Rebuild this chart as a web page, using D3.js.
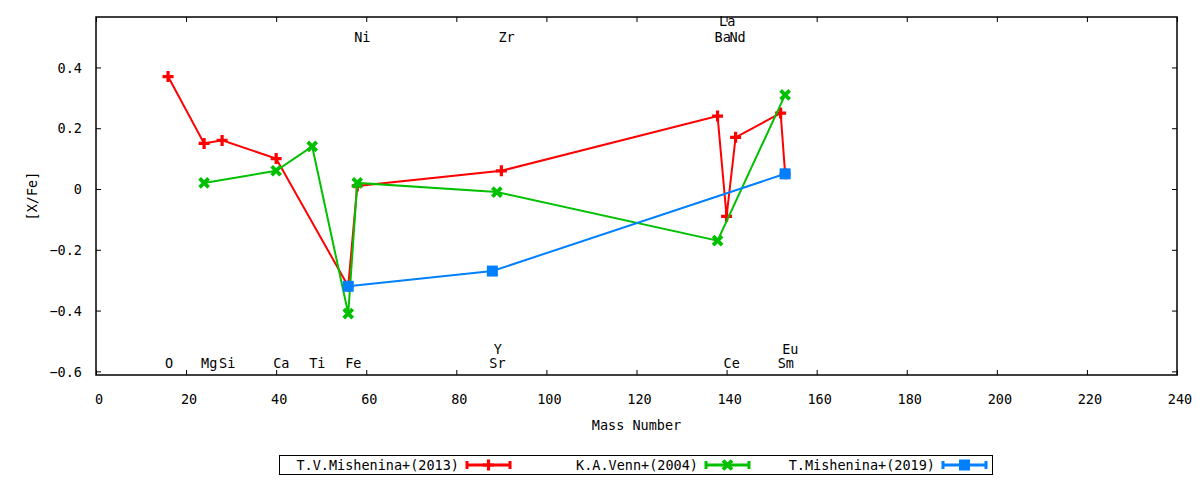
<!DOCTYPE html>
<html><head><meta charset="utf-8">
<script src="https://cdn.jsdelivr.net/npm/d3@7"></script>
<style>
html,body{margin:0;padding:0;background:#fff;}
svg text{font-family:"DejaVu Sans Mono",monospace;font-size:13.5px;fill:#000;}
</style></head>
<body>
<svg id="chart" width="1200" height="480"></svg>
<script>
// ---- data ----
const redMass   = [16, 24, 28, 40, 56, 58, 90, 138, 140, 142, 152, 153];
const redValue  = [0.37, 0.15, 0.16, 0.10, -0.32, 0.01, 0.06, 0.24, -0.09, 0.17, 0.25, 0.05];
const greenMass = [24, 40, 48, 56, 58, 89, 138, 153];
const greenValue= [0.02, 0.06, 0.14, -0.41, 0.02, -0.01, -0.17, 0.31];
const blueMass  = [56, 88, 153];
const blueValue = [-0.32, -0.27, 0.05];
const seriesNames = ["T.V.Mishenina+(2013)", "K.A.Venn+(2004)", "T.Mishenina+(2019)"];
const xTicks = [0,20,40,60,80,100,120,140,160,180,200,220,240];
const yTicks = [0.4,0.2,0,-0.2,-0.4,-0.6];
const labelText = ["Ni","Zr","La","Ba","Nd","O","Mg","Si","Ca","Ti","Fe","Y","Sr","Ce","Eu","Sm"];
const labelMass = [58, 90, 139, 138, 141.3, 16, 24, 28, 40, 48, 56, 89, 88, 140, 153, 152];
const labelY    = [0.50, 0.50, 0.552, 0.50, 0.50, -0.573, -0.573, -0.573, -0.573, -0.573, -0.573, -0.527, -0.573, -0.573, -0.527, -0.573];

// ---- layout ----
const svg = d3.select("#chart");
const L = 96, R = 1177, T = 17, B = 375;
const x = d3.scaleLinear().domain([0,240]).range([L,R]);
const y = d3.scaleLinear().domain([-0.612,0.566]).range([B,T]);
const colors = ["#ff0000","#00c000","#0080ff"];

// axes with inward ticks
const fmtY = d => d === 0 ? "0" : d3.format(".1f")(d);
const gB = svg.append("g").attr("transform",`translate(0,${B})`)
  .call(d3.axisBottom(x).tickValues(xTicks).tickSizeInner(-5).tickSizeOuter(0).tickPadding(19));
const gT = svg.append("g").attr("transform",`translate(0,${T})`)
  .call(d3.axisTop(x).tickValues(xTicks).tickSizeInner(-5).tickSizeOuter(0).tickFormat(""));
const gL = svg.append("g").attr("transform",`translate(${L},0)`)
  .call(d3.axisLeft(y).tickValues(yTicks).tickSizeInner(-5).tickSizeOuter(0).tickPadding(14).tickFormat(fmtY));
const gR = svg.append("g").attr("transform",`translate(${R},0)`)
  .call(d3.axisRight(y).tickValues(yTicks).tickSizeInner(-5).tickSizeOuter(0).tickFormat(""));
[gB,gT,gL,gR].forEach(g=>{
  g.select(".domain").remove();
  g.selectAll(".tick line").attr("stroke","#000").attr("stroke-width",1);
  g.selectAll(".tick text").attr("font-family",null).attr("font-size",null).attr("fill","#000");
});
gB.selectAll(".tick text").attr("dy","0.71em").attr("dx",2.5);
gL.selectAll(".tick text").attr("dy","0.35em");

svg.append("rect").attr("x",L).attr("y",T).attr("width",R-L).attr("height",B-T)
  .attr("fill","none").attr("stroke","#000").attr("stroke-width",1.5);

// axis titles
svg.append("text").attr("x",(L+R)/2).attr("y",425).attr("dy","0.35em").attr("text-anchor","middle").text("Mass Number");
svg.append("text").attr("transform",`translate(32,${(T+B)/2}) rotate(-90)`).attr("dy","0.35em").attr("text-anchor","middle").text("[X/Fe]");

// element labels
labelText.forEach((t,i)=>{
  svg.append("text").attr("x",x(labelMass[i])-3).attr("y",y(labelY[i])).attr("dy","0.35em").attr("text-anchor","start").text(t);
});

// markers
function marker(g, type, cx, cy, color){
  const s = 5.5;
  if(type===0){
    g.append("path").attr("d",`M${cx-s},${cy}H${cx+s}M${cx},${cy-s}V${cy+s}`)
      .attr("stroke",color).attr("stroke-width",3.2).attr("fill","none");
  } else if(type===1){
    g.append("path").attr("d",`M${cx-s+1},${cy-s+1}L${cx+s-1},${cy+s-1}M${cx-s+1},${cy+s-1}L${cx+s-1},${cy-s+1}`)
      .attr("stroke",color).attr("stroke-width",3.8).attr("fill","none");
  } else {
    g.append("rect").attr("x",cx-s).attr("y",cy-s).attr("width",2*s).attr("height",2*s).attr("fill",color);
  }
}

const series = [
  {m:redMass, v:redValue},
  {m:greenMass, v:greenValue},
  {m:blueMass, v:blueValue}
];
const line = d3.line().x(d=>x(d[0])).y(d=>y(d[1]));
series.forEach((s,k)=>{
  const pts = s.m.map((m,i)=>[m,s.v[i]]);
  const g = svg.append("g");
  g.append("path").attr("d",line(pts)).attr("fill","none").attr("stroke",colors[k]).attr("stroke-width",2);
  pts.forEach(p=>marker(g,k,x(p[0]),y(p[1]),colors[k]));
});

// legend
svg.append("rect").attr("x",279.5).attr("y",455.5).attr("width",713).attr("height",19)
  .attr("fill","none").attr("stroke","#000").attr("stroke-width",1);
const legTextEnd = [459, 698, 935];
seriesNames.forEach((n,k)=>{
  const ly = 465;
  svg.append("text").attr("x",legTextEnd[k]).attr("y",ly).attr("dy","0.35em").attr("text-anchor","end").text(n);
  const x0 = legTextEnd[k]+8, x1 = x0+43;
  const g = svg.append("g");
  g.append("path").attr("d",`M${x0},${ly}H${x1}M${x0},${ly-4}V${ly+4}M${x1},${ly-4}V${ly+4}`)
    .attr("stroke",colors[k]).attr("stroke-width",3).attr("fill","none");
  marker(g,k,(x0+x1)/2,ly,colors[k]);
});
</script>
</body></html>
